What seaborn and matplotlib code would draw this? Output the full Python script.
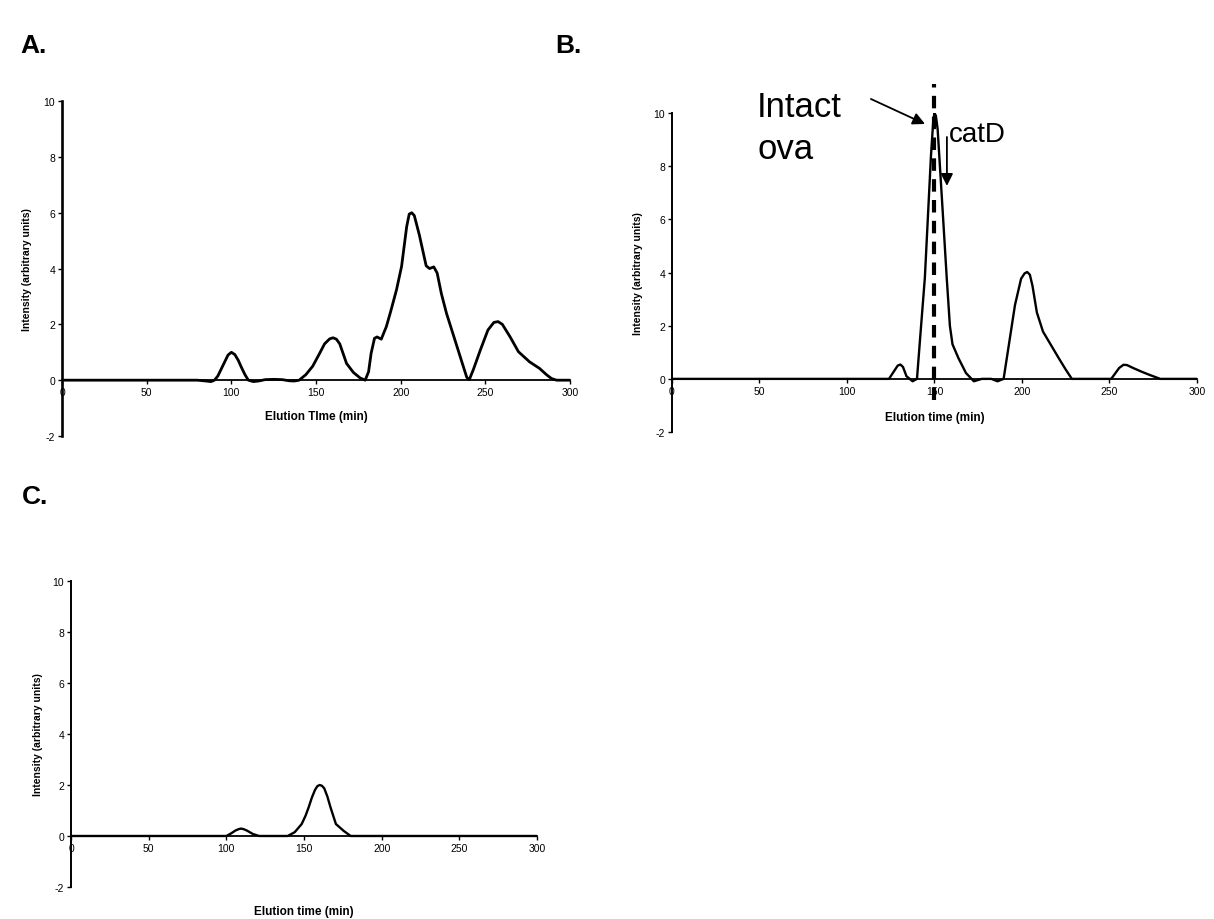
import matplotlib
matplotlib.use('Agg')
import matplotlib.pyplot as plt
import seaborn as sns

# ---------------- data ----------------
x_ticks = [0, 50, 100, 150, 200, 250, 300]
y_ticks = [-2, 0, 2, 4, 6, 8, 10]

A_time = [0, 20, 40, 60, 80, 85, 88, 90, 92, 94, 96, 98, 100, 102, 104, 106,
          108, 110, 113, 116, 120, 125, 130, 134, 137, 140, 144, 148, 152, 155,
          158, 160, 162, 164, 166, 168, 172, 176, 179, 181, 182.5, 184.5, 186,
          188.5, 191.5, 194, 197.5, 200.5, 203.5, 205, 206.5, 208, 211, 215,
          217, 219.5, 221.5, 224, 227, 232, 237, 239, 240.5, 243, 247, 251.5,
          255, 257.5, 260, 264.5, 269.5, 276, 282, 286, 289, 292, 300]
A_int = [0, 0, 0, 0, 0, -0.03, -0.05, 0, 0.15, 0.4, 0.65, 0.9, 1.0, 0.92,
         0.72, 0.45, 0.2, 0.0, -0.05, -0.03, 0.02, 0.03, 0.02, -0.02, -0.03,
         0.0, 0.2, 0.5, 0.95, 1.3, 1.48, 1.52, 1.47, 1.3, 0.95, 0.6, 0.28, 0.08,
         0.0, 0.3, 0.96, 1.5, 1.55, 1.47, 1.92, 2.45, 3.24, 4.08, 5.5, 5.95,
         6.0, 5.9, 5.2, 4.1, 4.0, 4.06, 3.84, 3.1, 2.4, 1.44, 0.48, 0.1, 0.02,
         0.4, 1.08, 1.8, 2.07, 2.1, 2.0, 1.56, 1.02, 0.66, 0.42, 0.2, 0.06, 0,
         0]

B_time = [0, 50, 100, 124, 127, 129, 130.5, 132, 134, 137.5, 140, 142, 144.5,
          148, 149.3, 150, 150.8, 151.8, 154.7, 157, 158.8, 160.3, 163.7, 168,
          172.5, 177, 182.5, 186, 189.5, 192.5, 196, 199.5, 201.5, 203, 204.5,
          206, 208.5, 212, 216.5, 221, 225, 228.5, 250, 251, 255.5, 258, 260,
          263.5, 268, 272.5, 279, 300]
B_int = [0, 0, 0, 0, 0.3, 0.5, 0.54, 0.45, 0.1, -0.09, 0, 1.7, 3.8, 8.4, 9.7,
         10.0, 9.9, 9.4, 6.3, 3.8, 2.0, 1.3, 0.78, 0.22, -0.09, 0, 0, -0.09, 0,
         1.28, 2.78, 3.77, 3.97, 4.02, 3.92, 3.5, 2.5, 1.78, 1.28, 0.78, 0.35,
         0, 0, 0, 0.41, 0.53, 0.52, 0.41, 0.28, 0.16, 0, 0]

C_time = [0, 50, 100, 103, 106, 108, 109.5, 111, 113, 117, 121, 130, 139.5,
          144, 148.5, 151, 153, 155, 157, 158.5, 160, 161.5, 163, 165, 167,
          170.5, 175.5, 180, 200, 250, 300]
C_int = [0, 0, 0, 0.1, 0.22, 0.27, 0.29, 0.27, 0.22, 0.08, 0, 0, 0, 0.15,
         0.47, 0.8, 1.13, 1.5, 1.8, 1.95, 2.0, 1.97, 1.87, 1.55, 1.13, 0.47,
         0.2, 0, 0, 0, 0]

marker_time = 150  # dashed marker in panel B

y_label = 'Intensity (arbitrary units)'
x_labels = ['Elution TIme (min)', 'Elution time (min)', 'Elution time (min)']
panel_letters = ['A.', 'B.', 'C.']

# ---------------- style ----------------
sns.set_style('white')
plt.rcParams['font.family'] = ['Liberation Sans', 'DejaVu Sans']
plt.rcParams['axes.unicode_minus'] = False
plt.rcParams['text.color'] = 'black'
plt.rcParams['axes.labelcolor'] = 'black'
plt.rcParams['xtick.color'] = 'black'
plt.rcParams['ytick.color'] = 'black'

fig = plt.figure(figsize=(12.14, 9.2), dpi=100)
axA = fig.add_axes([0.0511, 0.525, 0.4185, 0.364])
axB = fig.add_axes([0.5535, 0.5293, 0.4325, 0.3467])
axC = fig.add_axes([0.0585, 0.0348, 0.3839, 0.3326])


def style(ax, xlabel, ylw, xlab_y, ylab_x):
    ax.set_xlim(0, 300)
    ax.set_ylim(-2, 10)
    ax.spines['top'].set_visible(False)
    ax.spines['right'].set_visible(False)
    ax.spines['bottom'].set_position(('data', 0))
    for s in ('left', 'bottom'):
        ax.spines[s].set_color('black')
    ax.spines['left'].set_linewidth(ylw)
    ax.spines['bottom'].set_linewidth(1.3)
    ax.set_xticks(x_ticks)
    ax.set_yticks(y_ticks)
    ax.tick_params(axis='both', direction='out', length=3, width=1,
                   labelsize=7.5, bottom=True, left=True, colors='black', pad=2)
    ax.set_xlabel(xlabel, fontsize=8.5, fontweight='bold', color='black')
    ax.set_ylabel(y_label, fontsize=7.5, fontweight='bold', color='black')
    ax.xaxis.label.set_va('center')
    ax.yaxis.label.set_va('center')
    ax.xaxis.set_label_coords(0.5, xlab_y)
    ax.yaxis.set_label_coords(ylab_x, 0.5)
    ax.grid(False)


sns.lineplot(x=A_time, y=A_int, ax=axA, color='black', lw=2.0,
             estimator=None, sort=False, legend=False)
sns.lineplot(x=B_time, y=B_int, ax=axB, color='black', lw=1.7,
             estimator=None, sort=False, legend=False)
sns.lineplot(x=C_time, y=C_int, ax=axC, color='black', lw=1.7,
             estimator=None, sort=False, legend=False)

style(axA, x_labels[0], 1.9, 0.06, -0.069)
style(axB, x_labels[1], 1.4, 0.047, -0.065)
style(axC, x_labels[2], 1.4, -0.078, -0.071)

# Panel B annotations
axB.plot([marker_time, marker_time], [-0.8, 11.1], color='black', lw=3,
         ls=(0, (3, 2)), clip_on=False, zorder=5)
axB.text(48.6, 9.89, 'Intact', fontsize=25, va='baseline', ha='left',
         color='black')
axB.text(48.6, 8.31, 'ova', fontsize=25, va='baseline', ha='left',
         color='black')
axB.text(158.0, 8.95, 'catD', fontsize=20, va='baseline', ha='left',
         color='black')
axB.annotate('', xy=(144.6, 9.59), xytext=(113.7, 10.53),
             arrowprops=dict(arrowstyle='-|>', color='black', lw=1.3,
                             mutation_scale=18, shrinkA=0, shrinkB=0),
             annotation_clip=False)
axB.annotate('', xy=(157.1, 7.26), xytext=(157.1, 9.1),
             arrowprops=dict(arrowstyle='-|>', color='black', lw=1.3,
                             mutation_scale=18, shrinkA=0, shrinkB=0),
             annotation_clip=False)

# Panel letters
fig.text(20 / 1214, 1 - 46 / 920, panel_letters[0], fontsize=19,
         fontweight='bold', va='center', ha='left', color='black')
fig.text(555 / 1214, 1 - 46 / 920, panel_letters[1], fontsize=19,
         fontweight='bold', va='center', ha='left', color='black')
fig.text(22 / 1214, 1 - 497 / 920, panel_letters[2], fontsize=19,
         fontweight='bold', va='center', ha='left', color='black')

fig.savefig('out.png', dpi=100)
